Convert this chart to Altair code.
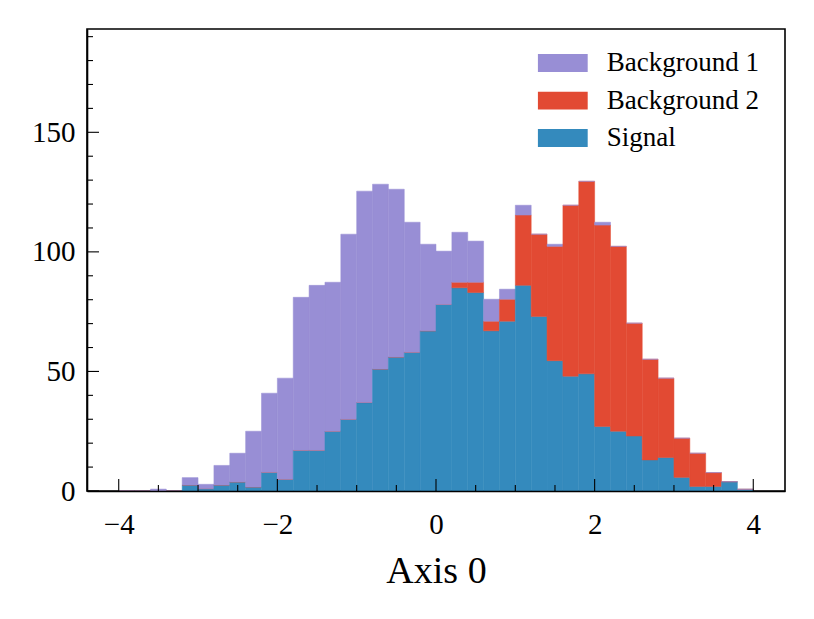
import altair as alt
import pandas as pd

# ---- data ----
bin_lo = [-4.0, -3.8, -3.6, -3.4, -3.2, -3.0, -2.8, -2.6, -2.4, -2.2,
          -2.0, -1.8, -1.6, -1.4, -1.2, -1.0, -0.8, -0.6, -0.4, -0.2,
          0.0, 0.2, 0.4, 0.6, 0.8, 1.0, 1.2, 1.4, 1.6, 1.8,
          2.0, 2.2, 2.4, 2.6, 2.8, 3.0, 3.2, 3.4, 3.6, 3.8]
bin_hi = [-3.8, -3.6, -3.4, -3.2, -3.0, -2.8, -2.6, -2.4, -2.2, -2.0,
          -1.8, -1.6, -1.4, -1.2, -1.0, -0.8, -0.6, -0.4, -0.2, 0.0,
          0.2, 0.4, 0.6, 0.8, 1.0, 1.2, 1.4, 1.6, 1.8, 2.0,
          2.2, 2.4, 2.6, 2.8, 3.0, 3.2, 3.4, 3.6, 3.8, 4.0]
signal = [0, 0, 0, 0, 2.5, 1, 2.5, 3.8, 1.7, 7.8,
          4.9, 17, 17, 25, 30, 37, 51, 56, 58, 67,
          78, 85, 83, 67, 71, 86, 73, 54.5, 48, 49,
          27, 25, 23, 13, 14, 5.7, 1.9, 1.9, 3.9, 0.7]
background2 = [0, 0, 0, 0, 0, 0, 0, 0, 0, 0,
               0, 0, 0, 0, 0, 0, 0, 0, 0, 0,
               0, 2.3, 4.3, 4, 9.2, 29.4, 34.4, 47.8, 71.5, 80.5,
               84.2, 77.3, 47.2, 42.1, 33.2, 16.4, 13.9, 5.8, 0, 0]
background1 = [0, 0, 0.8, 0, 3.1, 1.8, 8.2, 12, 23.3, 33.1,
               42.3, 64, 69, 62.3, 77.4, 88.4, 77.3, 70.2, 54.4, 36.2,
               22.3, 20.9, 17.2, 9.2, 4.2, 4.1, 0, 0.9, 0, 0,
               1.2, 0, 0, 0, 0, 0, 0, 0, 0, 0]

series_names = ["Background 1", "Background 2", "Signal"]
series_colors = ["#988ED5", "#E24A33", "#348ABD"]

x_major = [-4, -2, 0, 2, 4]
x_minor = [-3.5, -3, -2.5, -1.5, -1, -0.5, 0.5, 1, 1.5, 2.5, 3, 3.5]
y_major = [0, 50, 100, 150]
y_minor = [10, 20, 30, 40, 60, 70, 80, 90, 110, 120, 130, 140, 160, 170, 180, 190]

rows = []
stack_spec = [("Signal", signal, 0), ("Background 2", background2, 1), ("Background 1", background1, 2)]
for i in range(len(bin_lo)):
    for name, vals, order in stack_spec:
        rows.append({"lo": bin_lo[i], "hi": bin_hi[i], "series": name,
                     "count": vals[i], "stack_order": order})
df = pd.DataFrame(rows)

W, H = 698, 462
FONT = "Liberation Serif"

xscale = alt.Scale(domain=[-4.4, 4.4], nice=False, zero=False)
yscale = alt.Scale(domain=[0, 193.2], nice=False, zero=True)
color_scale = alt.Scale(domain=series_names, range=series_colors)

x_axis = alt.Axis(values=x_major, format="d", ticks=False, grid=False,
                  labelFont=FONT, labelFontSize=29, labelPadding=19,
                  labelColor="black", labelFlush=False, labelOverlap=False,
                  domain=True, domainColor="black", domainWidth=1.6,
                  title="Axis 0", titleFont=FONT, titleFontSize=38,
                  titleFontWeight="normal", titleColor="black",
                  titleBaseline="alphabetic", titleAlign="center",
                  titleY=91, titleX=W / 2, zindex=1)
y_axis = alt.Axis(values=y_major, ticks=False, grid=False,
                  labelFont=FONT, labelFontSize=29, labelPadding=12,
                  labelColor="black", labelFlush=False, labelOverlap=False,
                  domain=True, domainColor="black", domainWidth=1.6,
                  title="", zindex=1)

bars = alt.Chart(df).transform_stack(
    stack="count", as_=["y0", "y1"], groupby=["lo"],
    sort=[alt.SortField("stack_order", order="ascending")],
).mark_bar(strokeWidth=0.5).encode(
    x=alt.X("lo:Q", scale=xscale, axis=x_axis),
    x2="hi:Q",
    y=alt.Y("y1:Q", scale=yscale, axis=y_axis),
    y2="y0:Q",
    color=alt.Color("series:N", scale=color_scale,
                    legend=alt.Legend(title=None, orient="none", legendX=450.7, legendY=25,
                                      symbolType="M-1,-0.36L1,-0.36L1,0.36L-1,0.36Z",
                                      symbolSize=2500, clipHeight=18, rowPadding=10.5,
                                      labelOffset=19, labelFont=FONT, labelFontSize=27,
                                      labelColor="black", padding=0,
                                      symbolStrokeWidth=0, symbolOpacity=1)),
    stroke=alt.Stroke("series:N", scale=color_scale, legend=None),
)


def xticks(vals, length):
    d = pd.DataFrame({"v": vals})
    return alt.Chart(d).mark_rule(color="black", strokeWidth=1.1).encode(
        x=alt.X("v:Q", scale=xscale, axis=x_axis),
        y=alt.value(H), y2=alt.value(H - length))


def yticks(vals, length):
    d = pd.DataFrame({"v": vals})
    return alt.Chart(d).mark_rule(color="black", strokeWidth=1.1).encode(
        y=alt.Y("v:Q", scale=yscale, axis=y_axis),
        x=alt.value(0), x2=alt.value(length))


chart = alt.layer(
    bars,
    xticks(x_major, 12), xticks(x_minor, 6),
    yticks(y_major, 12), yticks(y_minor, 6),
).properties(
    width=W, height=H,
    padding={"left": 79, "top": 21, "right": 10, "bottom": 115},
    autosize=alt.AutoSizeParams(type="none"),
    background="white",
).configure_view(stroke="black", strokeWidth=1.6)

chart.save("out.html", embed_options={"renderer": "svg", "actions": False})
